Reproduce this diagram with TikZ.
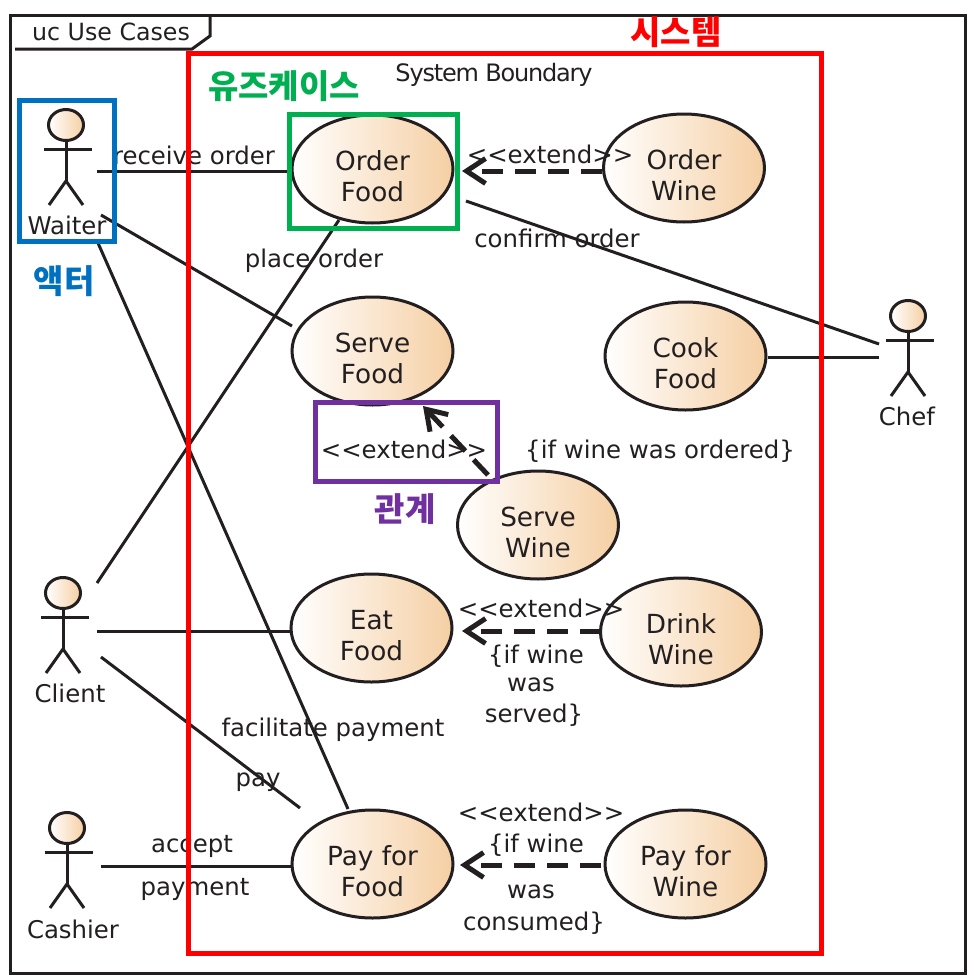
\documentclass[tikz,border=0pt]{standalone}
\usepackage{fontspec}
\setmainfont{DejaVu Sans}
\newfontfamily\krfont{Noto Sans CJK KR}
\newfontfamily\tightfont[LetterSpace=-5]{DejaVu Sans}
\usetikzlibrary{arrows.meta,shapes.geometric}
\definecolor{ink}{HTML}{231F20}
\definecolor{tan}{HTML}{F5CFA3}
\definecolor{redbox}{HTML}{FF0000}
\definecolor{bluebox}{HTML}{0070C0}
\definecolor{greenbox}{HTML}{00B050}
\definecolor{purplebox}{HTML}{7030A0}
\tikzset{
  usecase/.style={ellipse,draw=ink,line width=3pt,left color=white,right color=tan,minimum width=161pt,minimum height=108pt,inner sep=0pt,align=center,text=ink,font=\fontsize{26.3}{31}\selectfont},
  lbl/.style={text=ink,inner sep=0pt,align=center,font=\fontsize{24.4}{29.5}\selectfont},
  conn/.style={draw=ink,line width=3pt},
  ext/.style={draw=ink,line width=5pt,dash pattern=on 21pt off 12pt,-{Straight Barb[length=19pt,width=25pt,line width=5pt]}},
  hi/.style={line width=5pt,draw=#1},
  kr/.style={text=#1,inner sep=0pt,font=\fontsize{33}{38}\selectfont\krfont\bfseries},
  headshape/.style={ellipse,draw=ink,line width=3pt,left color=white,right color=tan,minimum width=35pt,minimum height=31pt,inner sep=0pt}
}
\newcommand{\uctext}[2]{\rule{0pt}{35pt}#1\\#2}
\newcommand{\stick}[3]{% name, x, y(head centre)
  \node[headshape] (#1) at (#2,#3) {};
  \draw[conn] (#1.south) -- ++(0,39) coordinate (#1hip);
  \draw[conn] (#2-22,#3+24) -- (#2+26,#3+24);
  \draw[conn] (#2-17,#3+80) -- (#1hip) -- (#2+17,#3+80);
}
\begin{document}
\begin{tikzpicture}[x=1pt,y=-1pt]
\useasboundingbox (0,0) rectangle (974,980);
\fill[white] (0,0) rectangle (974,980);
% frame
\draw[ink,line width=3pt] (10,15) rectangle (965,973);
\draw[ink,line width=3pt] (15,49) -- (192,49) -- (210,36) -- (210,15);
\node[lbl,font=\fontsize{23.7}{27}\selectfont] (title) at (111,32) {uc Use Cases};
\node[lbl,font=\fontsize{24}{27}\selectfont\tightfont] (boundary) at (494,75) {System Boundary};
% use cases
\node[usecase] (orderfood) at (372.5,169) {\uctext{Order}{Food}};
\node[usecase] (orderwine) at (684,168) {\uctext{Order}{Wine}};
\node[usecase] (servefood) at (372.5,351) {\uctext{Serve}{Food}};
\node[usecase] (cookfood) at (685.5,356) {\uctext{Cook}{Food}};
\node[usecase] (servewine) at (538,525) {\uctext{Serve}{Wine}};
\node[usecase] (eatfood) at (371.5,628) {\uctext{Eat}{Food}};
\node[usecase] (drinkwine) at (681,632) {\uctext{Drink}{Wine}};
\node[usecase] (payfood) at (372.5,864) {\uctext{Pay for}{Food}};
\node[usecase] (paywine) at (685.5,864) {\uctext{Pay for}{Wine}};
% actors
\stick{waiter}{66}{125}
\stick{client}{63}{593}
\stick{cashier}{67}{828}
\stick{chef}{908}{316}
\node[lbl] (waiterl) at (67,225) {Waiter};
\node[lbl] (clientl) at (70,693) {Client};
\node[lbl] (cashierl) at (73,929) {Cashier};
\node[lbl] (chefl) at (907,416) {Chef};
% free ends
\coordinate (w1) at (97,171);
\coordinate (w2) at (101,215);
\coordinate (w3) at (98,243);
\coordinate (c1) at (97,583);
\coordinate (c2) at (97,631);
\coordinate (c3) at (101,657);
\coordinate (ca1) at (101,866);
\coordinate (ch1) at (879,344);
\coordinate (ch2) at (879,357.5);
\coordinate (of1) at (288,171);
\coordinate (of2) at (466,201);
\coordinate (sf1) at (292,326);
\coordinate (pf1) at (348,809);
\coordinate (pf2) at (300,808);
\coordinate (of3) at (339,220);
% connectors
\draw[conn] (w1) -- (of1);
\draw[conn] (w2) -- (sf1);
\draw[conn] (w3) -- (pf1);
\draw[conn] (c1) -- (of3);
\draw[conn] (c2) -- (eatfood.west |- c2);
\draw[conn] (c3) -- (pf2);
\draw[conn] (ca1) -- (payfood.west |- ca1);
\draw[conn] (ch1) -- (of2);
\draw[conn] (ch2) -- (cookfood.east |- ch2);
% extends
\coordinate (e1a) at (602,171); \coordinate (e1b) at (462,171);
\coordinate (e2a) at (488,475); \coordinate (e2b) at (423,406);
\coordinate (e3a) at (601,631); \coordinate (e3b) at (462,631);
\coordinate (e4a) at (601,865); \coordinate (e4b) at (460,865);
\draw[ext] (e1a) -- (e1b);
\draw[ext] (e2a) -- (e2b);
\draw[ext] (e3a) -- (e3b);
\draw[ext] (e4a) -- (e4b);
% labels
\node[lbl] (l1) at (194,155) {receive order};
\node[lbl] (l2) at (314,261) {place order};
\node[lbl] (l3) at (550,154) {<{}<extend>{}>};
\node[lbl] (l4) at (557,238) {confirm order};
\node[lbl] (l5) at (404,449) {<{}<extend>{}>};
\node[lbl] (l6) at (660,451) {\{if wine was ordered\}};
\node[lbl] (l7) at (541,608) {<{}<extend>{}>};
\node[lbl] (l8) at (536,656) {\{if wine};
\node[lbl] (l9) at (531,685) {was};
\node[lbl] (l10) at (534,715) {served\}};
\node[lbl] (l11) at (333,730) {facilitate payment};
\node[lbl] (l12) at (258,782) {pay};
\node[lbl] (l13) at (192,846) {accept};
\node[lbl] (l14) at (195,889) {payment};
\node[lbl] (l15) at (541,812) {<{}<extend>{}>};
\node[lbl] (l16) at (536,845) {\{if wine};
\node[lbl] (l17) at (531,892) {was};
\node[lbl] (l18) at (534,923) {consumed\}};
% highlight boxes
\draw[hi=redbox] (188,53) rectangle (821,953);
\draw[hi=bluebox] (19.5,100.5) rectangle (114,241);
\draw[hi=greenbox] (289,114) rectangle (457,228);
\draw[hi=purplebox] (315.5,402) rectangle (497,481);
\node[kr=redbox] (k1) at (676,32) {시스템};
\node[kr=greenbox] (k2) at (284,86) {유즈케이스};
\node[kr=bluebox] (k3) at (64,281) {액터};
\node[kr=purplebox] (k4) at (405,509) {관계};
\end{tikzpicture}
\end{document}
